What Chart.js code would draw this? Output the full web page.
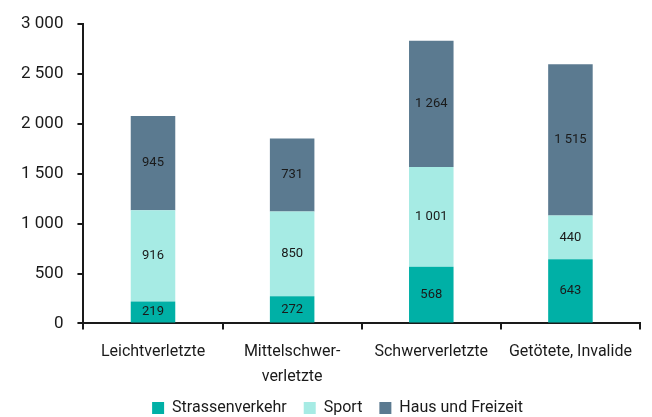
<!DOCTYPE html>
<html>
<head>
<meta charset="utf-8">
<script src="https://cdn.jsdelivr.net/npm/chart.js@4"></script>
<style>
  html, body { margin: 0; padding: 0; background: #fff; }
  #wrap { width: 652px; height: 417px; }
</style>
</head>
<body>
<div id="wrap"><canvas id="grafico"></canvas></div>
<script>
// Daten
const kategorien = ['Leichtverletzte', ['Mittelschwer-', 'verletzte'], 'Schwerverletzte', 'Getötete, Invalide'];
const strassenverkehr = [219, 272, 568, 643];
const sport = [916, 850, 1001, 440];
const hausFreizeit = [945, 731, 1264, 1515];
const yTicks = [0, 500, 1000, 1500, 2000, 2500, 3000];

const schrift = 'Roboto, "Liberation Sans", sans-serif';

// Zahl mit Leerzeichen als Tausendertrenner
const fmt = v => String(v).replace(/\B(?=(\d{3})+(?!\d))/g, ' ');

// Werte in den Balken schreiben
const wertePlugin = {
  id: 'werte',
  afterDatasetsDraw(chart) {
    const ctx = chart.ctx;
    ctx.save();
    ctx.font = '13px ' + schrift;
    ctx.fillStyle = '#1a1a1a';
    ctx.textAlign = 'center';
    ctx.textBaseline = 'middle';
    chart.data.datasets.forEach((ds, i) => {
      chart.getDatasetMeta(i).data.forEach((bar, j) => {
        const mitte = (bar.y + bar.base) / 2;
        ctx.fillText(fmt(ds.data[j]), bar.x, mitte);
      });
    });
    ctx.restore();
  }
};

// Legende etwas nach oben/rechts ruecken (Abstand zwischen Eintraegen bleibt breit)
const legendeHoch = {
  id: 'legendeHoch',
  afterLayout(chart) {
    if (chart.legend) {
      chart.legend.top -= 16;
      chart.legend.bottom -= 16;
      chart.legend.left += 14;
      chart.legend.right += 14;
    }
  }
};

const chart = new Chart(document.getElementById('grafico'), {
  type: 'bar',
  data: {
    labels: kategorien,
    datasets: [
      { label: 'Strassenverkehr', data: strassenverkehr, backgroundColor: '#00b0a6' },
      { label: 'Sport', data: sport, backgroundColor: '#a6ebe4' },
      { label: 'Haus und Freizeit', data: hausFreizeit, backgroundColor: '#5b7a90' }
    ]
  },
  options: {
    responsive: true,
    maintainAspectRatio: false,
    animation: false,
    layout: { padding: { top: 2, right: 12, left: 7, bottom: -25 } },
    datasets: { bar: { barPercentage: 0.32, categoryPercentage: 1 } },
    plugins: {
      legend: {
        position: 'bottom',
        labels: {
          boxWidth: 12, boxHeight: 12, padding: 17,
          color: '#1a1a1a',
          font: { family: schrift, size: 16 }
        }
      },
      tooltip: { enabled: false }
    },
    scales: {
      x: {
        stacked: true,
        border: { display: true, color: '#1a1a1a', width: 2 },
        grid: { drawOnChartArea: false, drawTicks: true, tickLength: 6, color: '#1a1a1a', lineWidth: 2, offset: true },
        ticks: { color: '#1a1a1a', padding: 10, maxRotation: 0, font: { family: schrift, size: 16, lineHeight: 1.55 } }
      },
      y: {
        stacked: true,
        min: 0, max: 3000,
        afterBuildTicks: axis => { axis.ticks = yTicks.map(v => ({ value: v })); },
        border: { display: true, color: '#1a1a1a', width: 2 },
        grid: { drawOnChartArea: false, drawTicks: true, tickLength: 6, color: '#1a1a1a', lineWidth: 2 },
        ticks: { color: '#1a1a1a', padding: 14, callback: v => fmt(v), font: { family: schrift, size: 17 } }
      }
    }
  },
  plugins: [wertePlugin, legendeHoch]
});
</script>
</body>
</html>
